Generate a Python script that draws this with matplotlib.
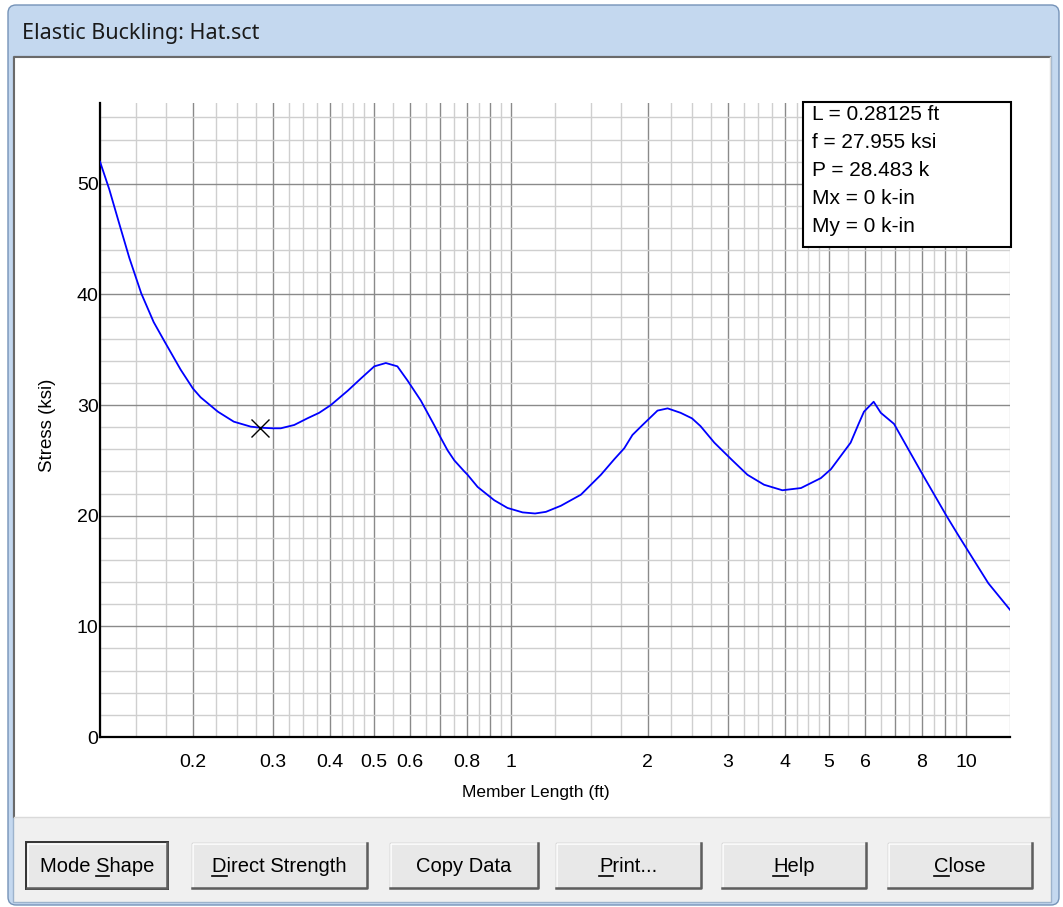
import matplotlib
matplotlib.use("Agg")
import matplotlib.pyplot as plt
from matplotlib.patches import Rectangle, FancyBboxPatch
from matplotlib.ticker import FixedLocator, FuncFormatter, NullFormatter, MultipleLocator

# curve
length_ft = [0.125, 0.131, 0.138, 0.145, 0.154, 0.164, 0.173, 0.188, 0.2, 0.208,
             0.227, 0.246, 0.268, 0.28125, 0.3, 0.312, 0.334, 0.357, 0.379, 0.402,
             0.438, 0.468, 0.501, 0.531, 0.563, 0.593, 0.634, 0.678, 0.702, 0.726,
             0.751, 0.79, 0.803, 0.845, 0.919, 0.983, 1.061, 1.13, 1.194, 1.288,
             1.425, 1.577, 1.687, 1.775, 1.85, 1.947, 2.1, 2.21, 2.36, 2.5,
             2.61, 2.8, 3.05, 3.31, 3.6, 3.95, 4.34, 4.8, 5.05, 5.58,
             5.81, 5.97, 6.27, 6.5, 6.95, 7.45, 8.09, 8.66, 9.06, 9.6,
             10.26, 11.2, 12.5]
stress_ksi = [52.0, 49.5, 46.3, 43.3, 40.1, 37.5, 35.8, 33.2, 31.5, 30.7,
              29.4, 28.5, 28.05, 27.955, 27.9, 27.9, 28.2, 28.8, 29.3, 30.0,
              31.3, 32.4, 33.5, 33.8, 33.5, 32.2, 30.4, 28.2, 27.0, 25.9,
              25.0, 24.0, 23.7, 22.6, 21.4, 20.7, 20.3, 20.2, 20.35, 20.9,
              21.9, 23.7, 25.1, 26.1, 27.3, 28.2, 29.5, 29.7, 29.3, 28.8,
              28.1, 26.6, 25.1, 23.7, 22.8, 22.3, 22.5, 23.4, 24.2, 26.6,
              28.3, 29.4, 30.3, 29.3, 28.3, 26.1, 23.5, 21.4, 20.0, 18.3,
              16.4, 13.9, 11.5]

sel_length = 0.28125
sel_stress = 27.955
info_lines = ["L = 0.28125 ft", "f = 27.955 ksi", "P = 28.483 k",
              "Mx = 0 k-in", "My = 0 k-in"]

x_labels = [0.2, 0.3, 0.4, 0.5, 0.6, 0.8, 1, 2, 3, 4, 5, 6, 8, 10]
button_names = ["Mode Shape", "Direct Strength", "Copy Data", "Print...", "Help", "Close"]
button_hotkey = [5, 0, None, 0, 0, 0]
button_x = [(27, 167), (192, 367), (390, 538), (556, 701), (722, 866), (888, 1032)]

plt.rcParams['font.family'] = ['Liberation Sans', 'DejaVu Sans']

W, H = 1063, 907
fig = plt.figure(figsize=(W / 100, H / 100), dpi=100)

# window chrome drawn in pixel coordinates
bg = fig.add_axes([0, 0, 1, 1], zorder=0)
bg.set_xlim(0, W)
bg.set_ylim(H, 0)
bg.axis('off')

bg.add_patch(FancyBboxPatch((8, 5), 1051, 900, boxstyle='round,pad=0,rounding_size=8',
                            fc='#c4d8ef', ec='#7593b8', lw=1))
bg.text(22, 33, "Elastic Buckling: Hat.sct", fontsize=15.5, va='center', ha='left',
        family=['Noto Sans', 'DejaVu Sans'], color='#1a1a1a')
bg.add_patch(Rectangle((13, 56), 1038, 846, fc='#f0f0f0', ec='#9db3cc', lw=1))
bg.add_patch(Rectangle((14, 57), 1036, 760, fc='white', ec='none'))
bg.plot([14, 14, 1050], [817, 57, 57], color='#6a6a6a', lw=1.5)
bg.plot([14, 1050, 1050], [817, 817, 57], color='#dadada', lw=1)

renderer = fig.canvas.get_renderer()


def text_width(s, size):
    t = bg.text(0, 100, s, fontsize=size)
    w = t.get_window_extent(renderer).width
    t.remove()
    return w


btn_top, btn_bot = 843, 888
for name, key, (x0, x1) in zip(button_names, button_hotkey, button_x):
    bg.add_patch(Rectangle((x0, btn_top), x1 - x0, btn_bot - btn_top,
                           fc='#e8e8e8', ec='#b4b4b4', lw=1))
    bg.plot([x0 + 1, x0 + 1, x1 - 1], [btn_bot - 1, btn_top + 1, btn_top + 1], color='white', lw=1.2)
    bg.plot([x0, x1, x1], [btn_bot, btn_bot, btn_top], color='#5e5e5e', lw=1.8)
    if name == "Mode Shape":
        bg.add_patch(Rectangle((x0 - 1, btn_top - 1), x1 - x0 + 2, btn_bot - btn_top + 2,
                               fc='none', ec='#333333', lw=1.4))
    cx = (x0 + x1) / 2
    fs = 14.5
    bg.text(cx, 872, name, fontsize=fs, ha='center', va='baseline', color='black')
    if key is not None:
        full = text_width(name, fs)
        end = text_width(name[:key + 1], fs)
        ch = text_width(name[key], fs)
        left = cx - full / 2
        bg.plot([left + end - ch, left + end], [876, 876], color='black', lw=1.2)

# plot axes
ax = fig.add_axes([100 / W, 1 - 737 / H, 910 / W, 634 / H], zorder=1)
ax.plot(length_ft, stress_ksi, color='#0000ff', lw=1.3, zorder=3)
ax.plot([sel_length], [sel_stress], marker='x', color='black', ms=13, mew=1.0,
        linestyle='none', zorder=4)

ax.set_xscale('log')
ax.set_xlim(0.125, 12.5)
ax.set_ylim(0, 57.3)

decades = [0.1, 1, 10]
major_x = [k * d for d in decades for k in range(1, 10)]
minor_x = [(k + s) * d for d in decades for k in range(1, 10)
           for s in ((0.25, 0.5, 0.75) if k < 5 else (0.5,))]
ax.xaxis.set_major_locator(FixedLocator(major_x))
ax.xaxis.set_minor_locator(FixedLocator(minor_x))
ax.xaxis.set_major_formatter(FuncFormatter(
    lambda v, p: f"{v:g}" if any(abs(v - l) < 1e-9 for l in x_labels) else ""))
ax.xaxis.set_minor_formatter(NullFormatter())
ax.yaxis.set_major_locator(MultipleLocator(10))
ax.yaxis.set_minor_locator(MultipleLocator(2))

ax.set_axisbelow(True)
ax.grid(which='major', color='#8a8a8a', lw=1.0)
ax.grid(which='minor', color='#cfcfcf', lw=1.0)
ax.tick_params(which='both', length=0, labelsize=14)
ax.tick_params(axis='x', pad=12)
ax.tick_params(axis='y', pad=1)

for side in ('top', 'right'):
    ax.spines[side].set_visible(False)
for side in ('left', 'bottom'):
    ax.spines[side].set_color('black')
    ax.spines[side].set_linewidth(1.6)

ax.set_xlabel("Member Length (ft)", fontsize=12.5, va='center')
ax.xaxis.set_label_coords((536 - 100) / 910, -(793 - 737) / 634)
ax.set_ylabel("Stress (ksi)", fontsize=13.5, va='center')
ax.yaxis.set_label_coords(-(100 - 47) / 910, (737 - 425) / 634)

# info box overlay
top = fig.add_axes([0, 0, 1, 1], zorder=2)
top.set_xlim(0, W)
top.set_ylim(H, 0)
top.axis('off')
top.patch.set_alpha(0)
top.add_patch(Rectangle((803, 102), 208, 145, fc='white', ec='black', lw=1.5))
for i, line in enumerate(info_lines):
    top.text(812, 114 + i * 28, line, fontsize=15, va='center', ha='left', color='black')

fig.savefig("out.png", dpi=100, facecolor='white')
